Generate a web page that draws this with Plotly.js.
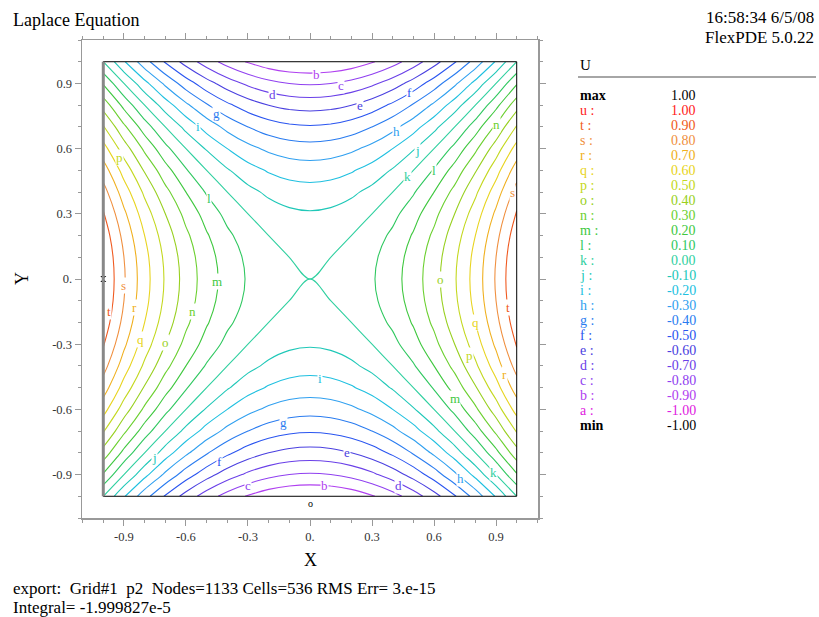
<!DOCTYPE html>
<html>
<head>
<meta charset="utf-8">
<script src="https://cdn.plot.ly/plotly-3.0.1.min.js"></script>
<style>html,body{margin:0;padding:0;background:#fff;}#chart{width:819px;height:617px;}</style>
</head>
<body>
<div id="chart"></div>
<script>
// ---- data ----
const xGrid = [-1.0,-0.9,-0.8,-0.7,-0.6,-0.5,-0.4,-0.3,-0.2,-0.1,0.0,0.1,0.2,0.3,0.4,0.5,0.6,0.7,0.8,0.9,1.0];
const yGrid = [-1.0,-0.9,-0.8,-0.7,-0.6,-0.5,-0.4,-0.3,-0.2,-0.1,0.0,0.1,0.2,0.3,0.4,0.5,0.6,0.7,0.8,0.9,1.0];
const uValues = [
 [0,-0.19,-0.36,-0.51,-0.64,-0.75,-0.84,-0.91,-0.96,-0.99,-1,-0.99,-0.96,-0.91,-0.84,-0.75,-0.64,-0.51,-0.36,-0.19,0],
 [0.19,0,-0.17,-0.32,-0.45,-0.56,-0.65,-0.72,-0.77,-0.8,-0.81,-0.8,-0.77,-0.72,-0.65,-0.56,-0.45,-0.32,-0.17,0,0.19],
 [0.36,0.17,0,-0.15,-0.28,-0.39,-0.48,-0.55,-0.6,-0.63,-0.64,-0.63,-0.6,-0.55,-0.48,-0.39,-0.28,-0.15,0,0.17,0.36],
 [0.51,0.32,0.15,0,-0.13,-0.24,-0.33,-0.4,-0.45,-0.48,-0.49,-0.48,-0.45,-0.4,-0.33,-0.24,-0.13,0,0.15,0.32,0.51],
 [0.64,0.45,0.28,0.13,0,-0.11,-0.2,-0.27,-0.32,-0.35,-0.36,-0.35,-0.32,-0.27,-0.2,-0.11,0,0.13,0.28,0.45,0.64],
 [0.75,0.56,0.39,0.24,0.11,0,-0.09,-0.16,-0.21,-0.24,-0.25,-0.24,-0.21,-0.16,-0.09,0,0.11,0.24,0.39,0.56,0.75],
 [0.84,0.65,0.48,0.33,0.2,0.09,0,-0.07,-0.12,-0.15,-0.16,-0.15,-0.12,-0.07,0,0.09,0.2,0.33,0.48,0.65,0.84],
 [0.91,0.72,0.55,0.4,0.27,0.16,0.07,0,-0.05,-0.08,-0.09,-0.08,-0.05,0,0.07,0.16,0.27,0.4,0.55,0.72,0.91],
 [0.96,0.77,0.6,0.45,0.32,0.21,0.12,0.05,0,-0.03,-0.04,-0.03,0,0.05,0.12,0.21,0.32,0.45,0.6,0.77,0.96],
 [0.99,0.8,0.63,0.48,0.35,0.24,0.15,0.08,0.03,0,-0.01,0,0.03,0.08,0.15,0.24,0.35,0.48,0.63,0.8,0.99],
 [1,0.81,0.64,0.49,0.36,0.25,0.16,0.09,0.04,0.01,0,0.01,0.04,0.09,0.16,0.25,0.36,0.49,0.64,0.81,1],
 [0.99,0.8,0.63,0.48,0.35,0.24,0.15,0.08,0.03,0,-0.01,0,0.03,0.08,0.15,0.24,0.35,0.48,0.63,0.8,0.99],
 [0.96,0.77,0.6,0.45,0.32,0.21,0.12,0.05,0,-0.03,-0.04,-0.03,0,0.05,0.12,0.21,0.32,0.45,0.6,0.77,0.96],
 [0.91,0.72,0.55,0.4,0.27,0.16,0.07,0,-0.05,-0.08,-0.09,-0.08,-0.05,0,0.07,0.16,0.27,0.4,0.55,0.72,0.91],
 [0.84,0.65,0.48,0.33,0.2,0.09,0,-0.07,-0.12,-0.15,-0.16,-0.15,-0.12,-0.07,0,0.09,0.2,0.33,0.48,0.65,0.84],
 [0.75,0.56,0.39,0.24,0.11,0,-0.09,-0.16,-0.21,-0.24,-0.25,-0.24,-0.21,-0.16,-0.09,0,0.11,0.24,0.39,0.56,0.75],
 [0.64,0.45,0.28,0.13,0,-0.11,-0.2,-0.27,-0.32,-0.35,-0.36,-0.35,-0.32,-0.27,-0.2,-0.11,0,0.13,0.28,0.45,0.64],
 [0.51,0.32,0.15,0,-0.13,-0.24,-0.33,-0.4,-0.45,-0.48,-0.49,-0.48,-0.45,-0.4,-0.33,-0.24,-0.13,0,0.15,0.32,0.51],
 [0.36,0.17,0,-0.15,-0.28,-0.39,-0.48,-0.55,-0.6,-0.63,-0.64,-0.63,-0.6,-0.55,-0.48,-0.39,-0.28,-0.15,0,0.17,0.36],
 [0.19,0,-0.17,-0.32,-0.45,-0.56,-0.65,-0.72,-0.77,-0.8,-0.81,-0.8,-0.77,-0.72,-0.65,-0.56,-0.45,-0.32,-0.17,0,0.19],
 [0,-0.19,-0.36,-0.51,-0.64,-0.75,-0.84,-0.91,-0.96,-0.99,-1,-0.99,-0.96,-0.91,-0.84,-0.75,-0.64,-0.51,-0.36,-0.19,0]
];
// contour levels a..u (legend)
const levelLetters = ['a','b','c','d','e','f','g','h','i','j','k','l','m','n','o','p','q','r','s','t','u'];
const levelValues  = [-1.00,-0.90,-0.80,-0.70,-0.60,-0.50,-0.40,-0.30,-0.20,-0.10,0.00,0.10,0.20,0.30,0.40,0.50,0.60,0.70,0.80,0.90,1.00];
const levelColors  = ['#e020e0','#b040f0','#9040f0','#6a40e8','#4a40e0','#2a55f0','#2a7cf0','#30a0f0','#20c0e0','#20c8b8',
                      '#30d0a0','#30c860','#40c840','#6cd030','#98d020','#c4d820','#e8d420','#f0b020','#f09040','#f05a20','#ff2020'];
const uMax = 1.00, uMin = -1.00;
const xTickVals = [-0.9,-0.6,-0.3,0,0.3,0.6,0.9];
const xTickText = ['-0.9','-0.6','-0.3','0.','0.3','0.6','0.9'];
const yTickVals = [-0.9,-0.6,-0.3,0,0.3,0.6,0.9];
const yTickText = ['-0.9','-0.6','-0.3','0.','0.3','0.6','0.9'];
// contour-label letters placed on the lines
const lblText = ['b','c','d','e','f','g','h','i','j','k','l','n','p','l','s','m','o','s','n','t','r','q','o','t','q','p','r','i','m','g','e','j','f','h','k','c','b','d'];
const lblX = [0.03,0.15,-0.18,0.24,0.48,-0.45,0.42,-0.54,0.52,0.47,0.60,0.90,-0.92,-0.49,0.98,-0.45,0.63,-0.90,-0.57,-0.97,-0.85,-0.82,-0.70,0.96,0.80,0.77,0.94,0.05,0.70,-0.13,0.18,-0.75,-0.44,0.73,0.89,-0.30,0.07,0.43];
const lblY = [0.94,0.89,0.85,0.80,0.86,0.76,0.68,0.70,0.59,0.47,0.50,0.71,0.56,0.37,0.40,-0.01,0.0,-0.03,-0.15,-0.15,-0.13,-0.28,-0.29,-0.13,-0.20,-0.35,-0.44,-0.46,-0.55,-0.66,-0.80,-0.82,-0.84,-0.92,-0.89,-0.95,-0.95,-0.95];

// ---- chart ----
const serif = 'Liberation Serif, Times New Roman, serif';
const cscale = levelColors.map((c,i)=>[i/(levelColors.length-1), c]);
const colorOf = {}; levelLetters.forEach((l,i)=>colorOf[l]=levelColors[i]);

const traces = [{
  type:'contour', x:xGrid, y:yGrid, z:uValues,
  zmin:-1, zmax:1, autocontour:false,
  contours:{coloring:'lines', start:levelValues[0], end:levelValues[levelValues.length-1], size:0.1, showlabels:false},
  colorscale:cscale, showscale:false, line:{width:1.1, smoothing:1}, hoverinfo:'skip'
},{
  type:'scatter', mode:'markers', x:[-1], y:[0],
  marker:{symbol:'hourglass', size:6, color:'#000'}, hoverinfo:'skip', showlegend:false, cliponaxis:false
}];

const ann = [];
lblText.forEach((t,i)=>ann.push({x:lblX[i], y:lblY[i], xref:'x', yref:'y', text:t, showarrow:false,
  font:{family:serif, size:13, color:colorOf[t]}, bgcolor:'rgba(255,255,255,1)', borderpad:0}));
ann.push({x:0, y:-1, xref:'x', yref:'y', text:'o', showarrow:false, yanchor:'top', yshift:0, font:{family:serif,size:10,color:'#000'}});
const page = (x,y,t,opt)=>Object.assign({xref:'paper',yref:'paper',x:x,y:y,text:t,showarrow:false,font:{family:serif,size:18,color:'#000'}},opt||{});
// convert pixel to paper coords: plot area x 82..538, y 40..518
const px = p=>(p-82)/456, py = p=>(518-p)/478;
const small = {family:serif,size:17,color:'#000'};
ann.push(page(px(11),py(20),'Laplace Equation',{xanchor:'left',yanchor:'middle'}));
ann.push(page(px(816),py(17),'16:58:34 6/5/08',{xanchor:'right',yanchor:'middle',font:small}));
ann.push(page(px(816),py(37),'FlexPDE 5.0.22',{xanchor:'right',yanchor:'middle',font:small}));
ann.push(page(px(11),py(588),'export:  Grid#1  p2  Nodes=1133 Cells=536 RMS Err= 3.e-15',{xanchor:'left',yanchor:'middle',font:small}));
ann.push(page(px(11),py(607),'Integral= -1.999827e-5',{xanchor:'left',yanchor:'middle',font:small}));
ann.push(page(px(310),py(560),'X',{xanchor:'center',yanchor:'middle'}));
ann.push(page(px(22),py(279),'Y',{xanchor:'center',yanchor:'middle',textangle:-90}));
// legend panel
ann.push(page(px(578),py(65),'U',{xanchor:'left',yanchor:'middle',font:{family:serif,size:15,color:'#000'}}));
const rows = [['max', uMax.toFixed(2), '#000']];
for (let i=levelLetters.length-1;i>=0;i--) rows.push([levelLetters[i]+' :', levelValues[i].toFixed(2), levelColors[i]]);
rows.push(['min', uMin.toFixed(2), '#000']);
rows.forEach((r,i)=>{
  const yy = 95 + i*15;
  const bold = (r[0]==='max'||r[0]==='min');
  ann.push(page(px(578),py(yy),bold?'<b>'+r[0]+'</b>':r[0],{xanchor:'left',yanchor:'middle',font:{family:serif,size:14,color:r[2]}}));
  ann.push(page(px(698),py(yy),r[1],{xanchor:'right',yanchor:'middle',font:{family:serif,size:14,color:r[2]}}));
});

const shapes = [
  {type:'rect', xref:'x', yref:'y', x0:-1, x1:1, y0:-1, y1:1, line:{color:'#000', width:1}},
  {type:'line', xref:'x', yref:'y', x0:-1, x1:-1, y0:-1, y1:1, line:{color:'#888', width:3}},
  {type:'line', xref:'paper', yref:'paper', x0:px(578), x1:px(816), y0:py(77), y1:py(77), line:{color:'#888', width:1.5}}
];

const axisCommon = {
  showgrid:false, zeroline:false, showline:true, linecolor:'#999', linewidth:1.5, mirror:'ticks',
  ticks:'outside', ticklen:6, tickcolor:'#999', tickwidth:1, tickmode:'array',
  tickfont:{family:serif, size:12.5, color:'#333'},
  minor:{ticks:'outside', ticklen:3, tickcolor:'#999', tickmode:'linear', tick0:0, dtick:0.1, showgrid:false}
};
const layout = {
  width:819, height:617, paper_bgcolor:'#fff', plot_bgcolor:'#fff',
  margin:{l:82, r:281, t:40, b:99}, showlegend:false,
  xaxis:Object.assign({}, axisCommon, {range:[-1.103,1.103], tickvals:xTickVals, ticktext:xTickText}),
  yaxis:Object.assign({}, axisCommon, {range:[-1.1,1.1], tickvals:yTickVals, ticktext:yTickText}),
  annotations:ann, shapes:shapes
};
Plotly.newPlot('chart', traces, layout, {staticPlot:true, displayModeBar:false});
</script>
</body>
</html>
